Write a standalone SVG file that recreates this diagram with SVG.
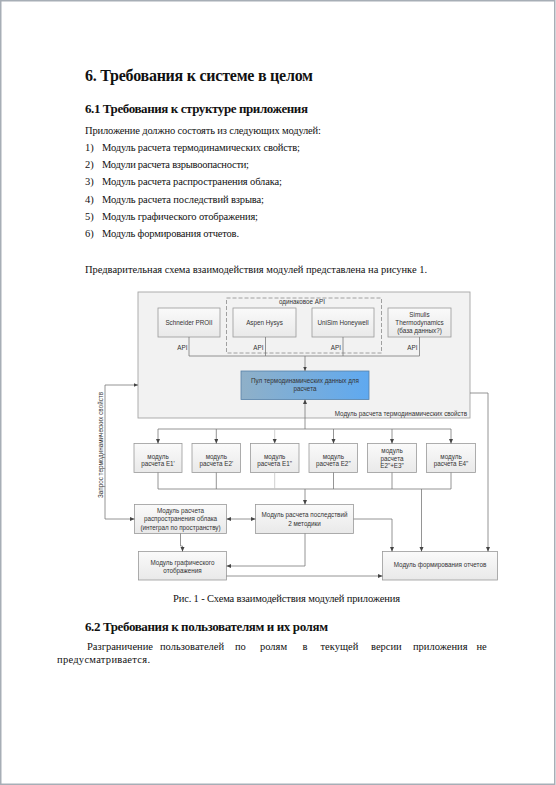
<svg xmlns="http://www.w3.org/2000/svg" width="556" height="785" viewBox="0 0 556 785">
<style>
.doc{font-family:"Liberation Serif","Times New Roman",serif;fill:#111}
.h1{font-size:16px;font-weight:bold}
.h2{font-size:13px;font-weight:bold}
.b{font-size:10.5px}
.d{font-family:"Liberation Sans",Arial,sans-serif;font-size:6.3px;fill:#333;text-anchor:middle}
.box{fill:url(#gbox);stroke:#9a9a9a;stroke-width:0.8}
.c{fill:none;stroke:#7a7a7a;stroke-width:0.8}
.ca{fill:none;stroke:#7a7a7a;stroke-width:0.8;marker-end:url(#ah)}
</style>
<defs>
<linearGradient id="gbox" x1="0" y1="0" x2="0" y2="1">
<stop offset="0" stop-color="#fafafa"/>
<stop offset="1" stop-color="#e9e9e9"/>
</linearGradient>
<linearGradient id="gpool" x1="0" y1="0" x2="1" y2="0">
<stop offset="0" stop-color="#8fb0c8"/>
<stop offset="1" stop-color="#5fa9f0"/>
</linearGradient>
<marker id="ah" markerUnits="userSpaceOnUse" markerWidth="5" markerHeight="5" refX="4.5" refY="2" orient="auto">
<path d="M0,0 L4.5,2 L0,4 z" fill="#444"/>
</marker>
<marker id="as" markerUnits="userSpaceOnUse" markerWidth="5" markerHeight="5" refX="0" refY="2" orient="auto">
<path d="M4.5,0 L0,2 L4.5,4 z" fill="#444"/>
</marker>
</defs>
<rect x="0.75" y="0.75" width="554" height="783.5" fill="#fff" stroke="#a7aeb6" stroke-width="1.5"/>

<g id="text-doc" class="doc">
<text class="h1" x="85" y="81" textLength="228">6. Требования к системе в целом</text>
<text class="h2" x="85" y="113" textLength="223">6.1 Требования к структуре приложения</text>
<text class="b" x="85" y="133.5" textLength="236">Приложение  должно состоять  из следующих  модулей:</text>
<text class="b" x="85" y="151">1)</text><text class="b" x="102" y="151" textLength="198">Модуль расчета термодинамических свойств;</text>
<text class="b" x="85" y="168">2)</text><text class="b" x="102" y="168" textLength="147">Модули расчета взрывоопасности;</text>
<text class="b" x="85" y="185">3)</text><text class="b" x="102" y="185" textLength="180">Модуль расчета распространения облака;</text>
<text class="b" x="85" y="202.5">4)</text><text class="b" x="102" y="202.5" textLength="162">Модуль расчета последствий взрыва;</text>
<text class="b" x="85" y="219.5">5)</text><text class="b" x="102" y="219.5" textLength="156">Модуль графического отображения;</text>
<text class="b" x="85" y="236.5">6)</text><text class="b" x="102" y="236.5" textLength="137">Модуль формирования отчетов.</text>
<text class="b" x="85" y="272.5" textLength="342">Предварительная схема взаимодействия модулей представлена на рисунке 1.</text>
<text class="b" x="173" y="602" textLength="227">Рис. 1 - Схема взаимодействия модулей приложения</text>
<text class="h2" x="85" y="631" textLength="243">6.2 Требования к пользователям и их ролям</text>
<text class="b" x="87" y="649.5">Разграничение</text>
<text class="b" x="160" y="649.5">пользователей</text>
<text class="b" x="235" y="649.5">по</text>
<text class="b" x="260" y="649.5">ролям</text>
<text class="b" x="302.5" y="649.5">в</text>
<text class="b" x="320.5" y="649.5">текущей</text>
<text class="b" x="371" y="649.5">версии</text>
<text class="b" x="413" y="649.5">приложения</text>
<text class="b" x="476.5" y="649.5">не</text>
<text class="b" x="57" y="663" textLength="93">предусматривается.</text>
</g>

<g id="thermo-module">
<rect x="138" y="292" width="332" height="126" fill="#f2f2f2" stroke="#a5a5a5" stroke-width="0.9"/>
<text class="d" x="467" y="416" style="text-anchor:end">Модуль расчета термодинамических свойств</text>
</g>
<g id="same-api">
<rect x="226.5" y="298" width="155" height="55" fill="none" stroke="#8a8a8a" stroke-width="0.8" stroke-dasharray="4,2"/>
<text class="d" x="302" y="304">одинаковое API</text>
</g>
<g id="schneider">
<rect class="box" x="158" y="308" width="62" height="29"/>
<text class="d" x="189" y="324.5">Schneider PROII</text>
</g>
<g id="aspen">
<rect class="box" x="233" y="308" width="63" height="29"/>
<text class="d" x="264.5" y="324.5">Aspen Hysys</text>
</g>
<g id="unisim">
<rect class="box" x="312" y="308" width="62" height="29"/>
<text class="d" x="343" y="324.5">UniSim Honeywell</text>
</g>
<g id="simulis">
<rect class="box" x="388" y="308" width="63" height="29"/>
<text class="d" x="419.5" y="317">Simulis</text>
<text class="d" x="419.5" y="325">Thermodynamics</text>
<text class="d" x="419.5" y="333">(база данных?)</text>
</g>
<g id="pool">
<rect x="241" y="371" width="128" height="28.5" fill="url(#gpool)" stroke="#5580a8" stroke-width="0.8"/>
<text class="d" x="305" y="383">Пул термодинамических данных для</text>
<text class="d" x="305" y="391">расчета</text>
</g>
<g id="e1p">
<rect class="box" x="134" y="443.5" width="48" height="29"/>
<text class="d" x="158" y="458.5">модуль</text>
<text class="d" x="158" y="466">расчета E1'</text>
</g>
<g id="e2p">
<rect class="box" x="192" y="443.5" width="48.5" height="29"/>
<text class="d" x="216.3" y="458.5">модуль</text>
<text class="d" x="216.3" y="466">расчета E2'</text>
</g>
<g id="e1s">
<rect class="box" x="250.5" y="443.5" width="48.5" height="29"/>
<text class="d" x="274.7" y="458.5">модуль</text>
<text class="d" x="274.7" y="466">расчета E1"</text>
</g>
<g id="e2s">
<rect class="box" x="309" y="443.5" width="48.5" height="29"/>
<text class="d" x="333.3" y="458.5">модуль</text>
<text class="d" x="333.3" y="466">расчета E2"</text>
</g>
<g id="e23">
<rect class="box" x="367.5" y="443.5" width="49" height="29"/>
<text class="d" x="392" y="452.5">модуль</text>
<text class="d" x="392" y="460.5">расчета</text>
<text class="d" x="392" y="468">E2"+E3"</text>
</g>
<g id="e4s">
<rect class="box" x="426.5" y="443.5" width="49" height="29"/>
<text class="d" x="451" y="458.5">модуль</text>
<text class="d" x="451" y="466">расчета E4"</text>
</g>
<g id="cloud">
<rect class="box" x="134.5" y="504.5" width="92" height="29"/>
<text class="d" x="180.5" y="512.7">Модуль расчета</text>
<text class="d" x="180.5" y="521.3">распространения облака</text>
<text class="d" x="180.5" y="529.5">(интеграл по пространству)</text>
</g>
<g id="consequence">
<rect class="box" x="255.5" y="504.5" width="98" height="29"/>
<text class="d" x="304.5" y="517">Модуль расчета последствий</text>
<text class="d" x="304.5" y="525.5">2 методики</text>
</g>
<g id="graphics">
<rect class="box" x="138.5" y="551.5" width="88" height="28.5"/>
<text class="d" x="182.5" y="564.5">Модуль графического</text>
<text class="d" x="182.5" y="573">отображения</text>
</g>
<g id="report">
<rect class="box" x="382.5" y="551.5" width="115" height="28.5"/>
<text class="d" x="440" y="567.3">Модуль формирования отчетов</text>
</g>
<g id="request-label">
<text class="d" transform="translate(102.5,445) rotate(-90)">Запрос термодинамических свойств</text>
</g>
<g id="api-labels">
<text class="d" x="187.5" y="349.5" style="text-anchor:end">API</text>
<text class="d" x="263.5" y="349.5" style="text-anchor:end">API</text>
<text class="d" x="341" y="349.5" style="text-anchor:end">API</text>
<text class="d" x="417.5" y="349.5" style="text-anchor:end">API</text>
</g>

<g id="connectors">
<path class="c" d="M189,337 V356 M265.5,337 V356 M343,337 V356 M419.5,337 V356 M189,356 H419.5"/>
<path class="ca" d="M305,356 V371"/>
<path class="ca" d="M305,429 V399.5"/>
<path class="c" d="M158,429 H451"/>
<path class="ca" d="M158,429 V443.5"/>
<path class="ca" d="M216.3,429 V443.5"/>
<path class="ca" d="M274.7,429 V443.5" style="stroke:#c4c4c4"/>
<path class="ca" d="M333.5,429 V443.5"/>
<path class="ca" d="M392,429 V443.5"/>
<path class="ca" d="M451,429 V443.5"/>
<path class="c" d="M158,472.5 V489 M216.3,472.5 V489 M333.5,472.5 V489 M392,472.5 V489 M451,472.5 V489 M158,489 H451"/>
<path class="c" d="M274.7,472.5 V489" style="stroke:#c4c4c4"/>
<path class="ca" d="M305,489 V504.5"/>
<path class="ca" d="M421.5,489 V551.5"/>
<path class="ca" d="M226.5,519 H255.5" style="marker-start:url(#as)"/>
<path class="ca" d="M134.5,519 H105 V385 H138" style="marker-start:url(#as)"/>
<path class="ca" d="M180.5,533.5 V546 H182.5 V551.5"/>
<path class="ca" d="M305,533.5 V566 H226.5"/>
<path class="ca" d="M226.5,576 H382.5"/>
<path class="ca" d="M353.5,519 H392 V551.5"/>
<path class="ca" d="M470,393 H488 V551.5"/>
</g>
</svg>
